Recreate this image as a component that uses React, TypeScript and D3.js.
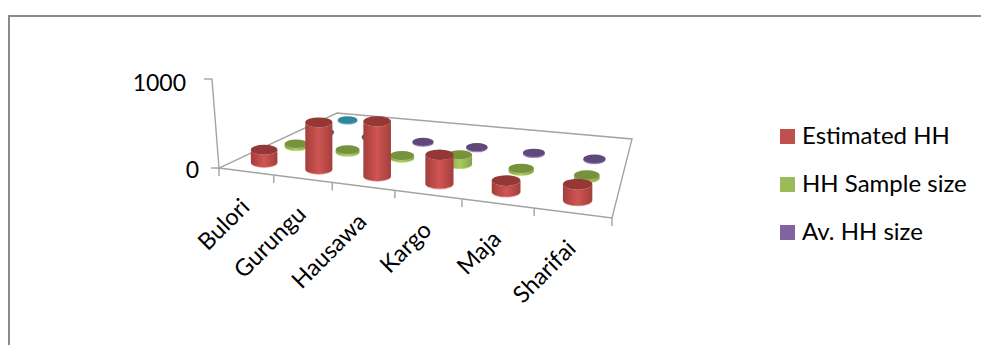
import React from "react";
import * as d3 from "d3";

const categories = ["Bulori", "Gurungu", "Hausawa", "Kargo", "Maja", "Sharifai"];
const estimatedHH = [145, 520, 590, 300, 110, 155];
const sampleSize = [30, 25, 25, 105, 25, 30];
const avgSize = [6, 6, 6, 6, 6, 6];
const extraSeries = [6];
const valueTicks = [0, 1000];
const legendNames = ["Estimated HH", "HH Sample size", "Av. HH size"];

const FONT = "Lato, 'Open Sans', sans-serif";
const GRID = "#A3A3A3";

// Floor corners of the 3D plot: front-left, front-right, back-right, back-left.
const floor: [number, number][] = [[219, 168], [612, 218], [632, 139], [337, 113]];
const wallTop: [number, number] = [212, 79];

function makeProjection(q: [number, number][]) {
  const [[x0, y0], [x1, y1], [x2, y2], [x3, y3]] = q;
  const dx1 = x1 - x2, dx2 = x3 - x2, sx = x0 - x1 + x2 - x3;
  const dy1 = y1 - y2, dy2 = y3 - y2, sy = y0 - y1 + y2 - y3;
  const det = dx1 * dy2 - dx2 * dy1;
  const g = (sx * dy2 - dx2 * sy) / det;
  const h = (dx1 * sy - sx * dy1) / det;
  const a = x1 - x0 + g * x1, b = x3 - x0 + h * x3;
  const d = y1 - y0 + g * y1, e = y3 - y0 + h * y3;
  return (u: number, v: number) => {
    const w = g * u + h * v + 1;
    return { x: (a * u + b * v + x0) / w, y: (d * u + e * v + y0) / w, s: 1 / w };
  };
}

const project = makeProjection(floor);
const uScale = d3.scaleBand<string>().domain(categories).range([0, 1]);
const rows = ["est", "sample", "avg", "extra"];
const vScale = d3.scaleBand<string>().domain(rows).range([0, 1]);
const heightScale = d3.scaleLinear().domain([0, 1000]).range([0, 168 - wallTop[1]]);

type Look = { id: string; top: string; edge: string; mid: string; rim: string };
const looks: Look[] = [
  { id: "est", top: "#953735", edge: "#A33F3C", mid: "#CF5552", rim: "#E8A5A3" },
  { id: "sample", top: "#76923C", edge: "#85A447", mid: "#A9CC61", rim: "#CFE3A0" },
  { id: "avg", top: "#5F497A", edge: "#5F497A", mid: "#7A5F9A", rim: "#A995C4" },
  { id: "extra", top: "#31859C", edge: "#31859C", mid: "#3F9DB6", rim: "#8CCBDB" },
];
const seriesValues = [estimatedHH, sampleSize, avgSize, extraSeries];
const legendColors = ["#C0504D", "#9BBB59", "#8064A2"];
const rowRadius = [13.5, 12.5, 11.5, 11.5];

function Cylinder({ u, v, value, look, radius }: { u: number; v: number; value: number; look: Look; radius: number }) {
  const p = project(u, v);
  const rx = radius * Math.pow(p.s, 0.6);
  const ry = rx * 0.37;
  const h = heightScale(value) * p.s;
  const d = `M${p.x - rx},${p.y - h}L${p.x - rx},${p.y}A${rx},${ry} 0 0 0 ${p.x + rx},${p.y}L${p.x + rx},${p.y - h}A${rx},${ry} 0 0 1 ${p.x - rx},${p.y - h}Z`;
  return (
    <g>
      <ellipse cx={p.x} cy={p.y + 0.8} rx={rx} ry={ry} fill={look.rim} />
      <path d={d} fill={`url(#side-${look.id})`} />
      <ellipse cx={p.x} cy={p.y - h} rx={rx} ry={ry} fill={look.top} />
    </g>
  );
}

export default function App() {
  const corner = floor.map(([x, y]) => `${x},${y}`).join(" ");
  return (
    <svg width={981} height={345} style={{ position: "absolute", left: 0, top: 0, display: "block" }} fontFamily={FONT}>
      <defs>
        {looks.map((l) => (
          <linearGradient key={l.id} id={`side-${l.id}`} x1="0" x2="1" y1="0" y2="0">
            <stop offset="0" stopColor={l.edge} />
            <stop offset="0.5" stopColor={l.mid} />
            <stop offset="1" stopColor={l.edge} />
          </linearGradient>
        ))}
      </defs>
      <rect width={981} height={345} fill="#fff" />
      <path d="M9,345V16H981" fill="none" stroke="#8A8A8A" strokeWidth={2} />

      {/* floor outline and value axis */}
      <polygon points={corner} fill="#fff" stroke={GRID} strokeWidth={1.4} />
      <line x1={floor[0][0]} y1={floor[0][1]} x2={wallTop[0]} y2={wallTop[1]} stroke={GRID} strokeWidth={1.4} />
      {valueTicks.map((t) => {
        const y = 168 - heightScale(t);
        const x = floor[0][0] + (wallTop[0] - floor[0][0]) * (t / 1000);
        return (
          <g key={t}>
            <line x1={x - 8} x2={x} y1={y} y2={y} stroke={GRID} strokeWidth={1.4} />
            <text x={x - 26 + (t ? 0 : 6)} y={y + (t ? 12 : 10)} fontSize={23} textAnchor="end" fill="#000">{t}</text>
          </g>
        );
      })}
      {d3.range(categories.length + 1).map((i) => {
        const p = project(i / categories.length, 0);
        return <line key={i} x1={p.x} x2={p.x} y1={p.y} y2={p.y + 8} stroke={GRID} strokeWidth={1.4} />;
      })}
      {categories.map((c) => {
        const p = project((uScale(c) ?? 0) + uScale.bandwidth() / 2, 0);
        return (
          <text key={c} textAnchor="end" fontSize={23.5} fill="#000"
            transform={`translate(${p.x + 5},${p.y + 37}) rotate(-45)`}>{c}</text>
        );
      })}

      {/* cylinders, back row first so nearer ones cover them */}
      {rows.map((_, r) => r).reverse().map((r) =>
        seriesValues[r].map((val, i) => (
          <Cylinder key={`${r}-${i}`} look={looks[r]} value={val}
            u={(uScale(categories[i]) ?? 0) + uScale.bandwidth() / 2}
            v={(vScale(rows[r]) ?? 0) + vScale.bandwidth() / 2}
            radius={rowRadius[r]} />
        ))
      )}

      {legendNames.map((n, i) => (
        <g key={n}>
          <rect x={780} y={129 + i * 48} width={15} height={15} fill={legendColors[i]} />
          <text x={802} y={144 + i * 48} fontSize={24} fill="#000">{n}</text>
        </g>
      ))}
    </svg>
  );
}
